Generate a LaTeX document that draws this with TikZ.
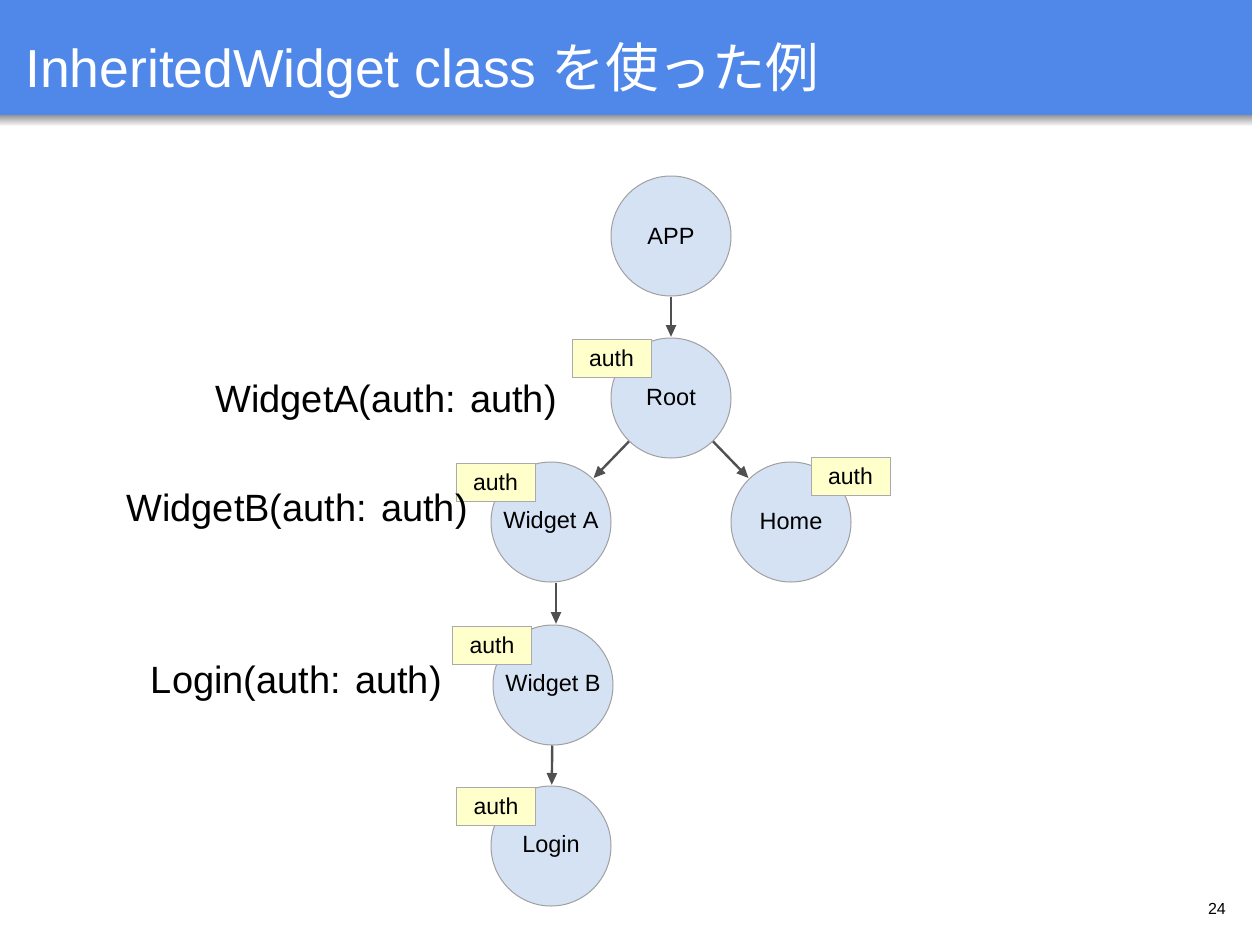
\documentclass[tikz,border=0pt]{standalone}
\usepackage{fontspec}
\setmainfont{Liberation Sans}
\newfontfamily\cjk{Noto Sans CJK JP}
\usetikzlibrary{arrows.meta}
\definecolor{hdrblue}{RGB}{80,136,234}
\definecolor{circfill}{RGB}{213,226,244}
\definecolor{circline}{RGB}{160,160,160}
\definecolor{authfill}{RGB}{255,255,204}
\definecolor{authline}{RGB}{170,170,170}
\definecolor{arrowcol}{RGB}{80,80,80}
\tikzset{
  widget/.style={circle, draw=circline, fill=circfill, line width=1pt, minimum size=120pt, inner sep=0pt, font=\fontsize{23.5}{26}\selectfont},
  authbox/.style={rectangle, draw=authline, fill=authfill, line width=1pt, minimum width=79pt, minimum height=38pt, inner sep=0pt, font=\fontsize{23}{26}\selectfont},
  conn/.style={draw=arrowcol, line width=2.4pt, -{Triangle[length=12pt,width=10pt]}, shorten >=0.5pt},
  lbl/.style={anchor=base east, inner sep=0pt, font=\fontsize{38}{42}\selectfont}
}
\begin{document}
\begin{tikzpicture}[x=1pt,y=-1pt]
\useasboundingbox (0,0) rectangle (1252,934);
\fill[white] (0,0) rectangle (1252,934);
% header shadow and bar
\shade[top color=black!45, bottom color=white] (0,114) rectangle (1252,126);
\fill[hdrblue] (0,0) rectangle (1252,115);
\node[anchor=base west, inner sep=0pt, text=white, font=\fontsize{53.5}{60}\selectfont] (title) at (25,88) {InheritedWidget class {\cjk を使った例}};
% nodes
\node[widget] (app) at (671,236) {APP};
\node[widget] (root) at (671,398) {Root};
\node[widget] (wa) at (551,522) {Widget A};
\node[widget] (home) at (791,522) {Home};
\node[widget] (wb) at (553,685) {Widget B};
\node[widget] (login) at (551,846) {Login};
% connectors
\draw[conn] (app) -- (root);
\draw[conn] (root) -- (wa);
\draw[conn] (root) -- (home);
\draw[conn] (wa.south -| 556,0) -- (wb.north -| 556,0);
\draw[conn] (wb) -- (login);
% auth boxes
\node[authbox] (arootb) at (611.5,358) {auth};
\node[authbox] (ahome) at (850.5,476) {auth};
\node[authbox] (awa) at (495.5,482) {auth};
\node[authbox] (awb) at (492,645) {auth};
\node[authbox] (alogin) at (496,806) {auth};
% labels
\node[lbl] (la) at (557,412) {WidgetA(auth: auth)};
\node[lbl] (lb) at (468,521) {WidgetB(auth: auth)};
\node[lbl] (ll) at (442,693) {Login(auth: auth)};
% page number
\node[anchor=base east, inner sep=0pt, font=\fontsize{16}{18}\selectfont] (pg) at (1226,914) {24};
\end{tikzpicture}
\end{document}
